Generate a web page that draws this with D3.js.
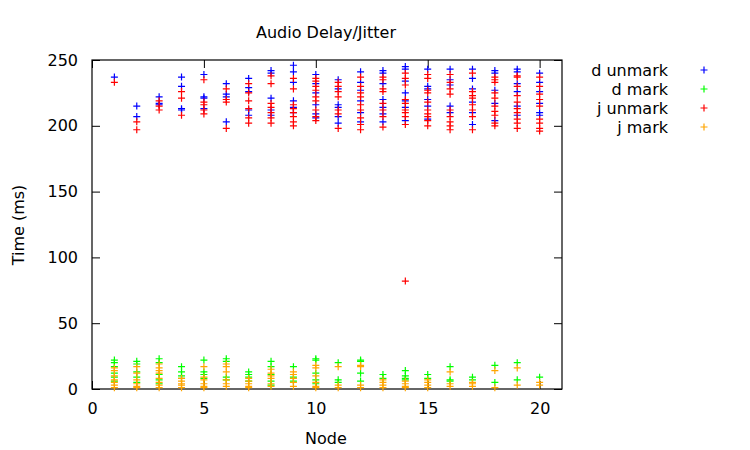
<!DOCTYPE html>
<html>
<head>
<meta charset="utf-8">
<script src="https://cdn.jsdelivr.net/npm/d3@7"></script>
<style>
  body { margin: 0; background: #fff; }
  text { font-family: "DejaVu Sans", sans-serif; font-size: 16px; fill: #000; }
</style>
</head>
<body>
<div id="chart"></div>
<script>
const W = 750, H = 450;
const PLOT = { left: 92, right: 562, top: 60, bottom: 389 };

// node numbers, one list of samples per node for each series
const nodes = [1, 2, 3, 4, 5, 6, 7, 8, 9, 10, 11, 12, 13, 14, 15, 16, 17, 18, 19, 20];
const dUnmark = [
  [237], [215, 207], [222, 217, 216], [237, 230, 213, 212], [239, 222, 221, 213],
  [232, 224, 222, 203], [236, 229, 226, 212, 208], [242, 240, 221, 212, 208],
  [246, 241, 233, 219, 214, 210], [239, 232, 225, 216, 209, 206],
  [235, 228, 216, 214, 207, 202], [241, 233, 227, 219, 210, 203],
  [242, 240, 232, 220, 214, 209, 203], [245, 243, 234, 225, 219, 214, 204],
  [243, 230, 228, 220, 215, 205], [243, 235, 231, 215, 210],
  [243, 236, 228, 218, 210, 201], [242, 240, 227, 217, 204],
  [243, 241, 232, 226, 215, 208], [240, 233, 226, 217, 210, 208]
];
const dMark = [
  [22, 20, 17, 12, 9, 6], [21, 19, 13, 9, 5], [23, 20, 11, 7, 4], [17, 13, 10, 8],
  [22, 13, 11, 8], [23, 21, 9, 7], [13, 11, 9, 6], [21, 17, 11, 6, 3], [17, 9, 6],
  [23, 22, 12, 7, 4], [20, 7, 5], [22, 21, 12, 6], [11, 8], [14, 10, 8, 7], [11, 8],
  [17, 7, 6], [9, 7], [18, 5], [20, 7], [9]
];
const jUnmark = [
  [233], [203, 197], [219, 215, 212], [226, 221, 208], [235, 218, 216, 212, 209],
  [228, 220, 218, 198], [232, 225, 219, 213, 206, 202], [238, 232, 217, 214, 210, 206, 202],
  [236, 228, 216, 213, 210, 207, 203, 200], [236, 234, 230, 227, 222, 219, 212, 207, 204],
  [233, 230, 226, 222, 212, 209, 198], [237, 230, 225, 222, 216, 212, 206, 201, 197],
  [237, 235, 228, 226, 217, 212, 207, 199], [240, 236, 231, 220, 217, 212, 210, 207, 201, 82],
  [239, 236, 227, 225, 218, 212, 209, 207, 204, 200], [239, 233, 228, 224, 212, 207, 203, 200, 197],
  [240, 226, 223, 221, 216, 212, 207, 197], [237, 235, 233, 225, 221, 215, 211, 208, 202, 200],
  [238, 237, 230, 223, 218, 213, 210, 205, 202, 198], [237, 230, 224, 220, 215, 205, 202, 198, 196]
];
const jMark = [
  [16, 14, 10, 7, 5, 3, 1], [17, 12, 7, 4, 2, 1], [19, 16, 14, 12, 8, 5, 3, 1], [8, 6, 4, 3, 1],
  [17, 9, 7, 4, 2, 1], [19, 17, 13, 7, 4, 2], [8, 6, 4, 2, 1], [15, 12, 10, 8, 4, 2],
  [13, 11, 8, 5, 2], [18, 16, 10, 5, 2, 1], [17, 3, 1], [18, 17, 3, 1], [7, 5, 3, 1],
  [6, 4, 2, 1], [7, 5, 3, 1], [13, 4, 2], [5, 4, 2], [14, 1], [16, 3], [5, 3]
];
const seriesNames = ["d unmark", "d mark", "j unmark", "j mark"];
const seriesColors = ["#0000ff", "#00ff00", "#ff0000", "#ffa500"];
const xTicks = [0, 5, 10, 15, 20];
const yTicks = [0, 50, 100, 150, 200, 250];

const allSeries = [dUnmark, dMark, jUnmark, jMark];

const svg = d3.select("#chart").append("svg")
  .attr("width", W).attr("height", H);

const x = d3.scaleLinear().domain([0, 21]).range([PLOT.left, PLOT.right]);
const y = d3.scaleLinear().domain([0, 250]).range([PLOT.bottom, PLOT.top]);

// title and axis labels
svg.append("text").attr("x", 326).attr("y", 38).attr("text-anchor", "middle").text("Audio Delay/Jitter");
svg.append("text").attr("x", 326).attr("y", 444).attr("text-anchor", "middle").text("Node");
svg.append("text").attr("transform", "translate(24,225) rotate(-90)")
  .attr("text-anchor", "middle").text("Time (ms)");

// axes with inward, mirrored ticks (gnuplot style)
const TICK = 8;
svg.append("g").attr("transform", "translate(0," + PLOT.bottom + ")")
  .call(d3.axisBottom(x).tickValues(xTicks).tickSizeInner(-TICK).tickSizeOuter(0).tickPadding(14))
svg.append("g").attr("transform", "translate(0," + PLOT.top + ")")
  .call(d3.axisTop(x).tickValues(xTicks).tickSizeInner(-TICK).tickSizeOuter(0).tickFormat(""))
svg.append("g").attr("transform", "translate(" + PLOT.left + ",0)")
  .call(d3.axisLeft(y).tickValues(yTicks).tickSizeInner(-TICK).tickSizeOuter(0).tickPadding(14))
svg.append("g").attr("transform", "translate(" + PLOT.right + ",0)")
  .call(d3.axisRight(y).tickValues(yTicks).tickSizeInner(-TICK).tickSizeOuter(0).tickFormat(""))
svg.selectAll(".domain").remove();
svg.selectAll(".tick line").attr("stroke", "#000").attr("stroke-width", 1);
svg.selectAll(".tick text").style("font-family", "DejaVu Sans").style("font-size", "16px").attr("fill", "#000");

svg.append("rect")
  .attr("x", PLOT.left).attr("y", PLOT.top)
  .attr("width", PLOT.right - PLOT.left).attr("height", PLOT.bottom - PLOT.top)
  .attr("fill", "none").attr("stroke", "#000").attr("stroke-width", 1.2);

// "+" point markers
const P = 3.5;
function plus(g, cx, cy, color) {
  g.append("path")
    .attr("d", "M" + (cx - P) + "," + cy + "h" + (2 * P) + "M" + cx + "," + (cy - P) + "v" + (2 * P))
    .attr("stroke", color).attr("stroke-width", 1.2).attr("fill", "none");
}

allSeries.forEach((series, si) => {
  const g = svg.append("g");
  series.forEach((vals, ni) => {
    vals.forEach(v => plus(g, x(nodes[ni]), y(v), seriesColors[si]));
  });
});

// legend
const LEG_X = 668, LEG_MARK = 704;
seriesNames.forEach((name, i) => {
  const ly = 70 + i * 19;
  svg.append("text").attr("x", LEG_X).attr("y", ly).attr("dy", "0.35em")
    .attr("text-anchor", "end").text(name);
  plus(svg, LEG_MARK, ly, seriesColors[i]);
});
</script>
</body>
</html>
